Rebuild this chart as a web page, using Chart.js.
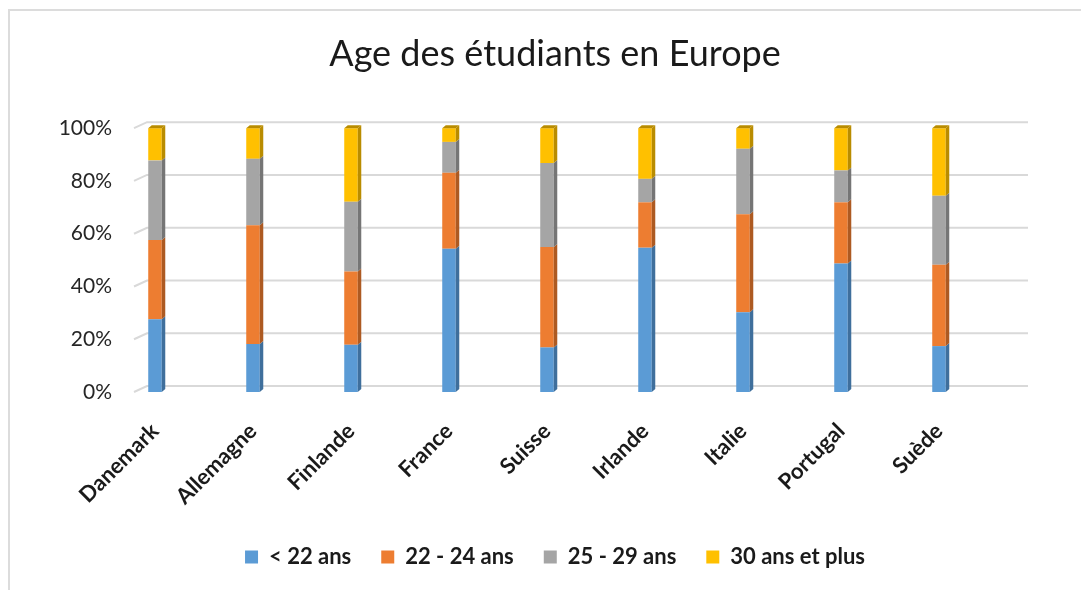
<!DOCTYPE html>
<html>
<head>
<meta charset="utf-8">
<script src="https://cdn.jsdelivr.net/npm/chart.js@4"></script>
<style>
  html, body { margin: 0; padding: 0; background: #fff; overflow: hidden; }
  #frame { position: absolute; left: 8px; top: 9px; width: 1120px; height: 620px; border: 2px solid #dcdcdc; }
  #wrap { position: absolute; left: 0; top: 0; width: 1110px; height: 590px; }
</style>
</head>
<body>
<div id="frame"></div>
<div id="wrap"><canvas id="myChart" width="1110" height="590"></canvas></div>
<script>
const categories = ["Danemark", "Allemagne", "Finlande", "France", "Suisse", "Irlande", "Italie", "Portugal", "Suède"];
const seriesNames = ["< 22 ans", "22 - 24 ans", "25 - 29 ans", "30 ans et plus"];
const moins22 = [27.6, 18.2, 17.9, 54.3, 16.9, 54.7, 30.2, 48.7, 17.4];
const de22a24 = [30.0, 45.0, 27.8, 28.8, 38.1, 17.2, 37.2, 23.2, 30.8];
const de25a29 = [30.2, 25.2, 26.4, 11.7, 31.8, 8.9, 24.8, 12.1, 26.2];
const plus30 = [12.2, 11.6, 27.9, 5.2, 13.2, 19.2, 7.8, 16.0, 25.6];
const yTicks = [0, 20, 40, 60, 80, 100];

const frontColors = ["#5b9bd5", "#ed7d31", "#a5a5a5", "#ffc000"];
const sideColors = ["#3f6f9c", "#ad5a22", "#757575", "#b98c00"];

Chart.defaults.font.family = "Lato";

// back wall gridlines, pushed back like the 3D chart
const wallGrid = {
  id: "wallGrid",
  beforeDatasetsDraw(chart) {
    const ctx = chart.ctx;
    const area = chart.chartArea;
    const y = chart.scales.y;
    ctx.save();
    ctx.strokeStyle = "#d9d9d9";
    ctx.lineWidth = 2;
    yTicks.forEach(function (v) {
      const py = y.getPixelForValue(v);
      ctx.beginPath();
      ctx.moveTo(area.left - 21, py);
      ctx.lineTo(area.left - 8, py - 6);
      ctx.lineTo(area.right + 89, py - 6);
      ctx.stroke();
    });
    ctx.restore();
  }
};

// darker side and top faces of each column
const columnDepth = {
  id: "columnDepth",
  afterDatasetsDraw(chart) {
    const ctx = chart.ctx;
    const dx = 3.5, dy = 3;
    const last = chart.data.datasets.length - 1;
    ctx.save();
    chart.data.datasets.forEach(function (ds, i) {
      const meta = chart.getDatasetMeta(i);
      meta.data.forEach(function (bar) {
        const p = bar.getProps(["x", "y", "base", "width"], true);
        const left = p.x - p.width / 2;
        const right = p.x + p.width / 2;
        const top = Math.min(p.y, p.base);
        const bottom = Math.max(p.y, p.base);
        ctx.fillStyle = sideColors[i];
        ctx.beginPath();
        ctx.moveTo(right, top);
        ctx.lineTo(right + dx, top - dy);
        ctx.lineTo(right + dx, bottom - dy);
        ctx.lineTo(right, bottom);
        ctx.closePath();
        ctx.fill();
        if (i === last) {
          ctx.beginPath();
          ctx.moveTo(left, top);
          ctx.lineTo(left + dx, top - dy);
          ctx.lineTo(right + dx, top - dy);
          ctx.lineTo(right, top);
          ctx.closePath();
          ctx.fill();
        }
      });
    });
    ctx.restore();
  }
};

const seriesValues = [moins22, de22a24, de25a29, plus30];

const data = {
  labels: categories,
  datasets: seriesValues.map(function (vals, i) {
    return {
      label: seriesNames[i],
      data: vals,
      backgroundColor: frontColors[i],
      borderWidth: 0,
      barPercentage: 0.138,
      categoryPercentage: 1,
      clip: false
    };
  })
};

const config = {
  type: "bar",
  data: data,
  options: {
    responsive: false,
    animation: false,
    layout: { padding: { top: 0, left: 0, right: 0, bottom: 12 } },
    plugins: {
      title: {
        display: true,
        text: "Age des étudiants en Europe",
        color: "#1a1a1a",
        font: { size: 36, weight: "normal" },
        padding: { top: 33, bottom: 52 }
      },
      legend: {
        position: "bottom",
        labels: {
          color: "#1a1a1a",
          font: { size: 22, weight: "bold" },
          boxWidth: 13,
          boxHeight: 13,
          padding: 30
        }
      },
      tooltip: { enabled: false }
    },
    scales: {
      x: {
        stacked: true,
        offset: false,
        grid: { display: false, drawTicks: false },
        border: { display: false },
        ticks: {
          color: "#1a1a1a",
          font: { size: 22, weight: "bold" },
          minRotation: 45,
          maxRotation: 45,
          autoSkip: false,
          padding: 26
        },
        afterFit: function (s) { s.height = 124; }
      },
      y: {
        stacked: true,
        min: 0,
        max: 100,
        grid: { display: false, drawTicks: false },
        border: { display: false },
        ticks: {
          stepSize: 20,
          color: "#262626",
          font: { size: 21 },
          padding: 43,
          callback: function (v) { return v + "%"; }
        },
        afterFit: function (s) { s.width = 155; }
      },
      spacer: {
        position: "right",
        display: true,
        grid: { display: false, drawTicks: false },
        border: { display: false },
        ticks: { display: false },
        afterFit: function (s) { s.width = 171; }
      }
    }
  },
  plugins: [wallGrid, columnDepth]
};

const myChart = new Chart(document.getElementById("myChart"), config);
</script>
</body>
</html>
